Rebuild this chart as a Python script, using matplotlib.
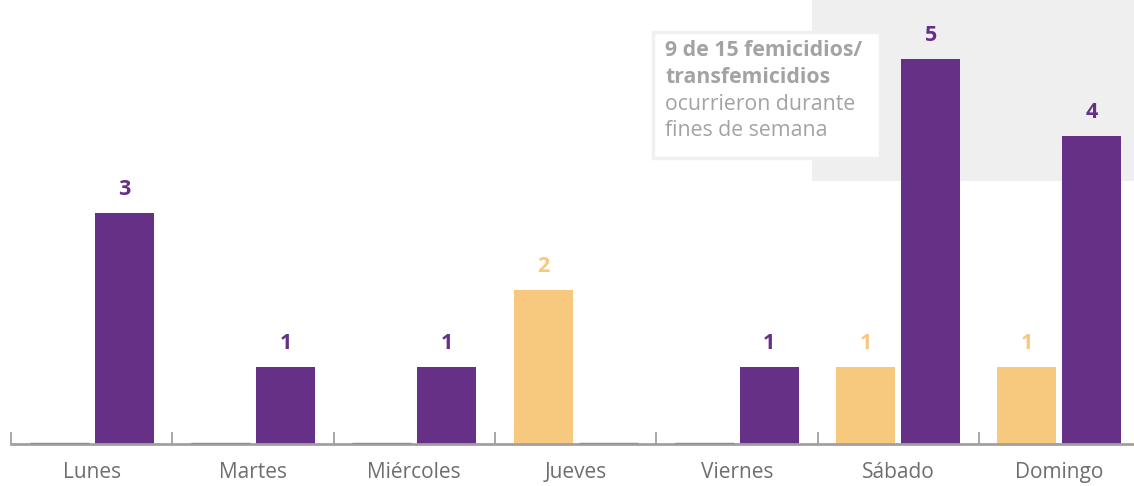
import numpy as np
import matplotlib
matplotlib.use("Agg")
import matplotlib.pyplot as plt
from matplotlib.patches import Rectangle

plt.rcParams['font.family'] = ['Open Sans', 'DejaVu Sans']

dias = ["Lunes", "Martes", "Miércoles", "Jueves", "Viernes", "Sábado", "Domingo"]
amarillo = [0, 0, 0, 2, 0, 1, 1]
morado = [3, 1, 1, 0, 1, 5, 4]

c_am = "#f7c97e"
c_mo = "#663087"
gris = "#a3a3a3"

fig = plt.figure(figsize=(11.34, 4.86), dpi=100)
ax = fig.add_axes([11/1134, 42/486, 1 - 11/1134, 444/486])

x = np.arange(len(dias))
w = 59/161.3
off = 32.5/161.3

# zona fin de semana
ax.add_patch(Rectangle((4.465, 3.42), 3, 3, facecolor="#efefef", edgecolor="none", zorder=0))

ax.bar(x - off, amarillo, w, color=c_am, zorder=2)
ax.bar(x + off, morado, w, color=c_mo, zorder=2)

# barras en cero como rayas grises
for i in range(len(dias)):
    if amarillo[i] == 0:
        ax.plot([x[i] - off - w/2, x[i] - off + w/2], [0, 0], color="#8f8f8f", lw=2.5, zorder=3, solid_capstyle="butt")
    else:
        ax.text(x[i] - off, amarillo[i] + 0.17, str(amarillo[i]), ha="center", va="bottom",
                color=c_am, fontsize=15.5, fontweight="bold")
    if morado[i] == 0:
        ax.plot([x[i] + off - w/2, x[i] + off + w/2], [0, 0], color="#958d99", lw=2.5, zorder=3, solid_capstyle="butt")
    else:
        ax.text(x[i] + off, morado[i] + 0.17, str(morado[i]), ha="center", va="bottom",
                color=c_mo, fontsize=15.5, fontweight="bold")

ax.set_xlim(-0.5, 6.462)
ax.set_ylim(0, 444/77)

ax.set_xticks(x)
ax.set_xticklabels(dias, fontsize=15, color="#6e6e6e")
ax.tick_params(axis="x", which="major", length=0, pad=13)
ax.set_xticks(np.arange(-0.5, 6.5, 1), minor=True)
ax.tick_params(axis="x", which="minor", direction="in", length=9, width=1.3, color="#a0a0a0")
ax.set_yticks([])
for s in ["top", "right", "left"]:
    ax.spines[s].set_visible(False)
ax.spines["bottom"].set_color("#a0a0a0")
ax.spines["bottom"].set_linewidth(2)

# recuadro de texto
fig.patches.append(Rectangle((653/1134, 1 - 158/486), 227/1134, 126/486, transform=fig.transFigure,
                             facecolor="white", edgecolor="#f0f0f0", lw=2.5, zorder=5))
y0 = 1 - 51/486
dy = 26.5/486
lineas = ["9 de 15 femicidios/", "transfemicidios", "ocurrieron durante", "fines de semana"]
for k, t in enumerate(lineas):
    fig.text(665/1134, y0 - k*dy, t, fontsize=15.3, color=gris, va="center", ha="left",
             fontweight="bold" if k < 2 else "normal", zorder=6)

fig.savefig("out.png", dpi=100)
